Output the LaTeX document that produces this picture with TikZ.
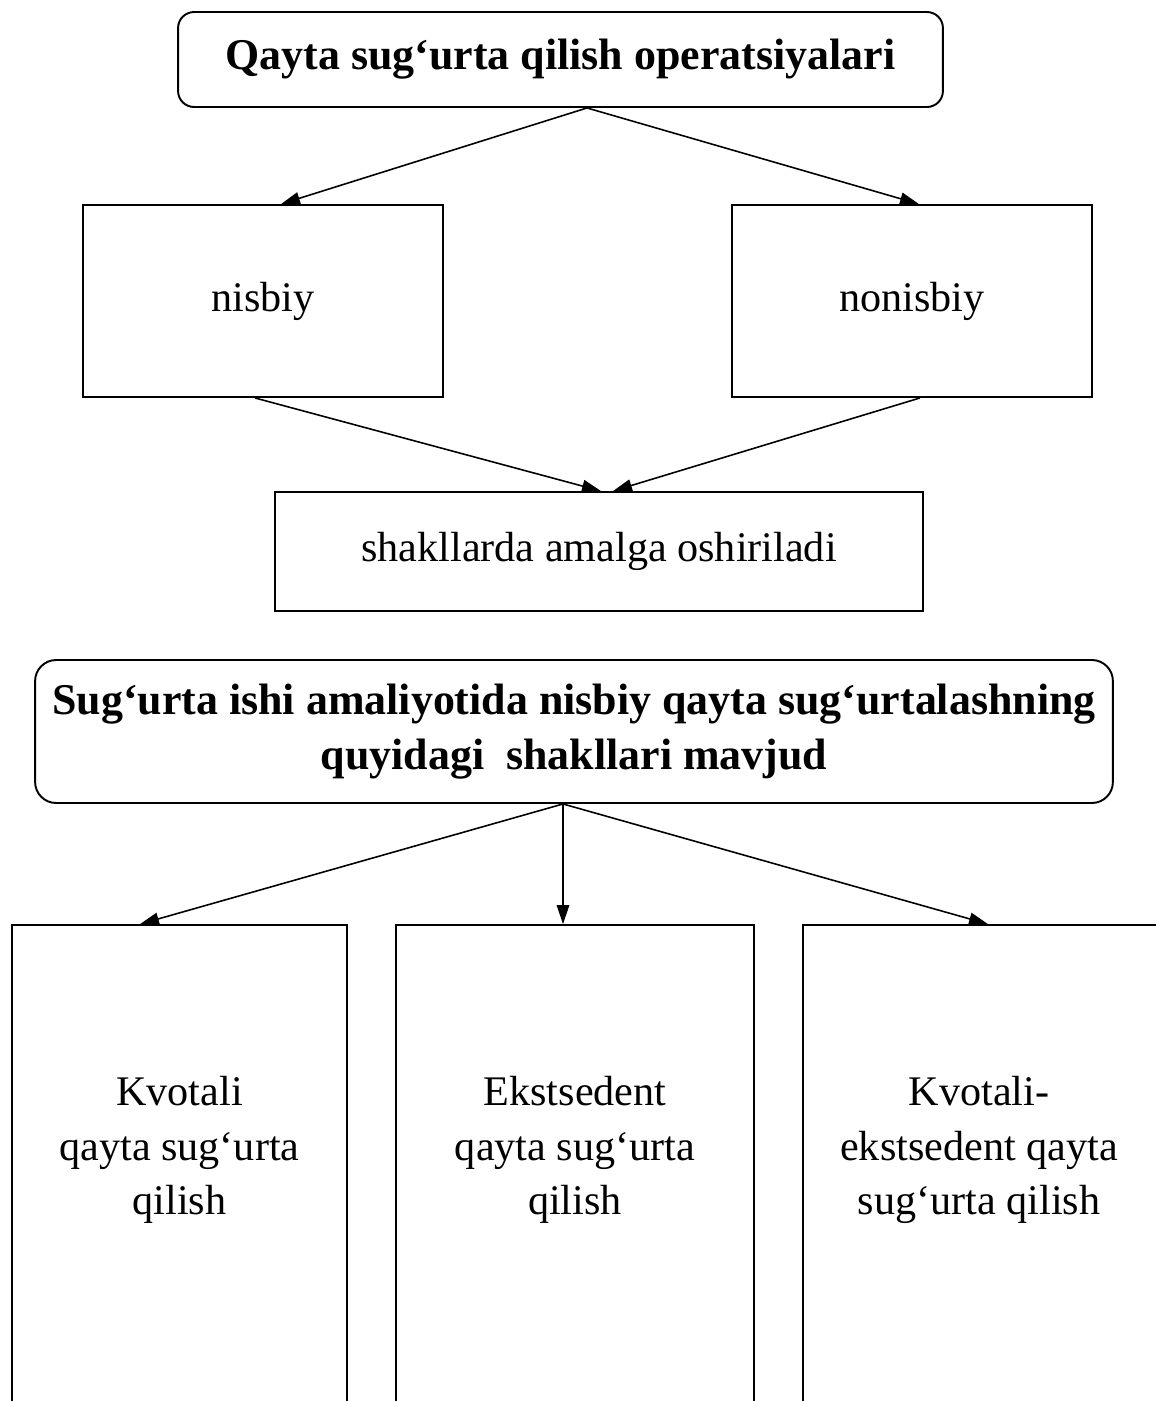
\documentclass[tikz,border=0pt]{standalone}
\usepackage{fontspec}
\setmainfont{Liberation Serif}
\usetikzlibrary{arrows.meta,positioning}

\begin{document}
\begin{tikzpicture}[x=0.02cm,y=-0.02cm,
 headbox/.style={draw,rounded corners=0.32cm,line width=1.1pt,align=center,inner sep=0,font=\fontsize{25}{31}\selectfont\bfseries},
 formbox/.style={draw,line width=1.1pt,align=center,inner sep=0,font=\fontsize{24}{31}\selectfont},
 formtext/.style={align=center,inner sep=0,font=\fontsize{24}{31}\selectfont},
 arrow/.style={-{Triangle[length=0.38cm,width=0.25cm]},line width=0.9pt}]
\clip (0,0) rectangle (1156,1401);
% upper scheme
\node[headbox,minimum width=15.3cm,minimum height=1.9cm] (operatsiya) at (560.5,59.5) {Qayta sug‘urta qilish operatsiyalari};
\node[formbox,minimum width=7.2cm,minimum height=3.84cm] (nisbiy) at (263,301) {nisbiy};
\node[formbox,minimum width=7.2cm,minimum height=3.84cm] (nonisbiy) at (912,301) {nonisbiy};
\node[formbox,minimum width=12.96cm,minimum height=2.38cm] (shakl) at (599,551.5) {shakllarda amalga oshiriladi};
\draw[arrow] ([xshift=0.53cm]operatsiya.south) -- ([xshift=0.36cm]nisbiy.north);
\draw[arrow] ([xshift=0.53cm]operatsiya.south) -- ([xshift=0.14cm]nonisbiy.north);
\draw[arrow] ([xshift=-0.16cm]nisbiy.south) -- ([xshift=0.04cm]shakl.north);
\draw[arrow] ([xshift=0.16cm]nonisbiy.south) -- ([xshift=0.28cm]shakl.north);
% lower scheme
\node[headbox,rounded corners=0.42cm,minimum width=21.56cm,minimum height=2.86cm] (mavjud) at (574,731.5) {Sug‘urta ishi amaliyotida nisbiy qayta sug‘urtalashning\\quyidagi\ \ shakllari mavjud};
\node[formbox,minimum width=6.7cm,minimum height=10.1cm,label={[formtext,yshift=0.55cm]center:Kvotali\\qayta sug‘urta\\qilish}] (kvotali) at (179.5,1177.5) {};
\node[formbox,minimum width=7.16cm,minimum height=10.1cm,label={[formtext,yshift=0.55cm]center:Ekstsedent\\qayta sug‘urta\\qilish}] (ekstsedent) at (575,1177.5) {};
\node[formbox,minimum width=7.74cm,minimum height=10.1cm,label={[formtext,yshift=0.55cm,xshift=-0.35cm]center:Kvotali-\\ekstsedent qayta\\sug‘urta qilish}] (aralash) at (996.5,1177.5) {};
\draw[arrow] ([xshift=-0.22cm]mavjud.south) -- ([xshift=-0.79cm]kvotali.north);
\draw[arrow] ([xshift=-0.22cm]mavjud.south) -- ([xshift=-0.24cm]ekstsedent.north);
\draw[arrow] ([xshift=-0.22cm]mavjud.south) -- ([xshift=-0.17cm]aralash.north);
\end{tikzpicture}
\end{document}
